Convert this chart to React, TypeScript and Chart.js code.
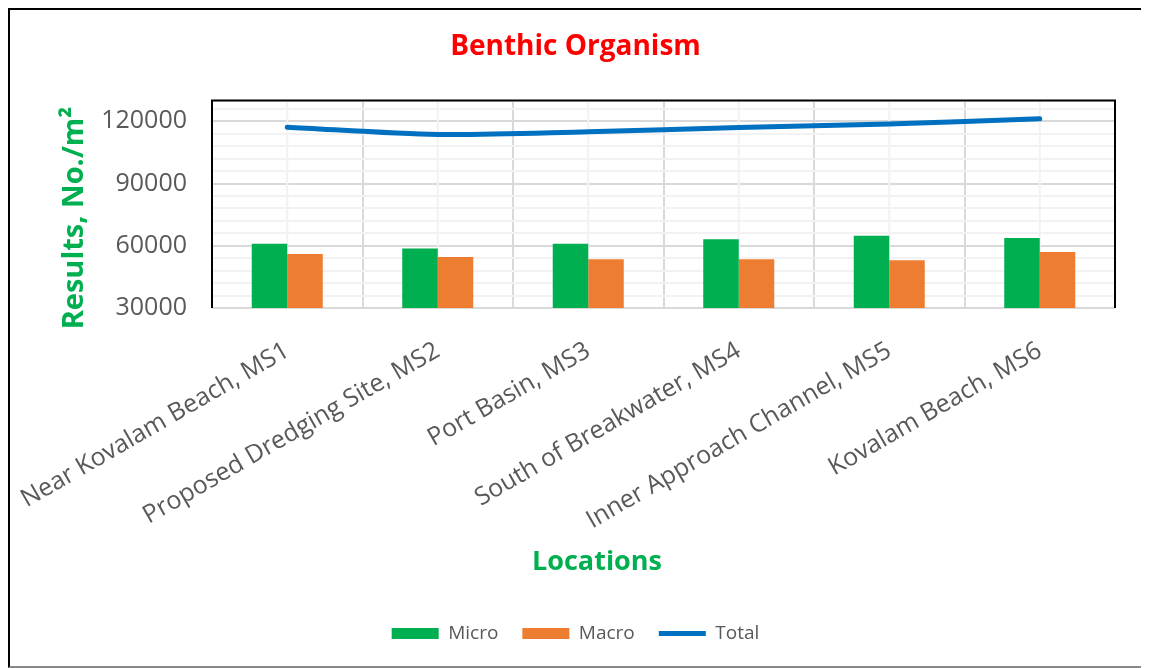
import { useEffect, useRef } from "react";
import { Chart, registerables } from "chart.js";

Chart.register(...registerables);

const categories = [
  "Near Kovalam Beach, MS1",
  "Proposed Dredging Site, MS2",
  "Port Basin, MS3",
  "South of Breakwater, MS4",
  "Inner Approach Channel, MS5",
  "Kovalam Beach, MS6",
];
const micro = [61000, 58700, 61000, 63200, 64800, 63800];
const macro = [56000, 54600, 53500, 53500, 53000, 57000];
const total = [117200, 113700, 115000, 117000, 118700, 121200];
const yMajorTicks = [30000, 60000, 90000, 120000];
const yGridTicks = [
  30000, 36000, 42000, 48000, 54000, 60000, 66000, 72000, 78000, 84000, 90000,
  96000, 102000, 108000, 114000, 120000, 126000, 130000,
];

const FONT = "'Open Sans', 'Noto Sans', sans-serif";

const framePlugin = {
  id: "frame",
  beforeDatasetsDraw(chart: any) {
    const { ctx, chartArea } = chart;
    const x = chart.scales.x;
    ctx.save();
    ctx.strokeStyle = "#F2F2F2";
    ctx.lineWidth = 2;
    for (let i = 0; i < categories.length; i++) {
      const px = x.getPixelForValue(i);
      ctx.beginPath();
      ctx.moveTo(px, chartArea.top);
      ctx.lineTo(px, chartArea.bottom);
      ctx.stroke();
    }
    ctx.restore();
  },
  afterDraw(chart: any) {
    const { ctx, chartArea } = chart;
    ctx.save();
    ctx.strokeStyle = "#000";
    ctx.lineWidth = 2;
    ctx.beginPath();
    ctx.moveTo(chartArea.left, chartArea.bottom);
    ctx.lineTo(chartArea.left, chartArea.top);
    ctx.lineTo(chartArea.right, chartArea.top);
    ctx.lineTo(chartArea.right, chartArea.bottom);
    ctx.stroke();

    ctx.fillStyle = "#00B050";
    ctx.font = `bold 27px ${FONT}`;
    ctx.textAlign = "center";
    ctx.textBaseline = "middle";
    ctx.fillText("Locations", 587, 552);

    ctx.translate(73, 208);
    ctx.rotate(-Math.PI / 2);
    ctx.font = `bold 29px ${FONT}`;
    ctx.textBaseline = "alphabetic";
    ctx.fillText("Results, No./m²", 0, 0);
    ctx.restore();
  },
};

export default function App() {
  const ref = useRef<HTMLCanvasElement | null>(null);
  useEffect(() => {
    if (!ref.current) return;
    const chart = new Chart(ref.current, {
      type: "bar",
      data: {
        labels: categories,
        datasets: [
          {
            type: "bar",
            label: "Micro",
            data: micro,
            backgroundColor: "#00B050",
            borderWidth: 0,
            pointStyle: "rect",
            order: 1,
          } as any,
          {
            type: "bar",
            label: "Macro",
            data: macro,
            backgroundColor: "#ED7D31",
            borderWidth: 0,
            pointStyle: "rect",
            order: 1,
          } as any,
          {
            type: "line",
            label: "Total",
            data: total,
            borderColor: "#0070C0",
            backgroundColor: "#0070C0",
            borderWidth: 5,
            pointRadius: 0,
            pointStyle: "line",
            tension: 0.3,
            borderCapStyle: "round",
            order: 0,
          } as any,
        ],
      },
      options: {
        animation: false,
        responsive: true,
        maintainAspectRatio: false,
        layout: { padding: { left: 26, right: 26, top: 0, bottom: 13 } },
        datasets: { bar: { categoryPercentage: 0.472, barPercentage: 1 } },
        plugins: {
          title: {
            display: true,
            text: "Benthic Organism",
            color: "#FF0000",
            font: { family: FONT, size: 28, weight: "bold" },
            padding: { top: 20, bottom: 37 },
          },
          legend: {
            position: "bottom",
            labels: {
              usePointStyle: true,
              pointStyleWidth: 47,
              boxHeight: 11,
              color: "#595959",
              font: { family: FONT, size: 19 },
              padding: 24,
              sort: (a: any, b: any) => a.datasetIndex - b.datasetIndex,
            },
          },
          tooltip: { enabled: false },
        },
        scales: {
          x: {
            grid: { offset: true, color: "#D9D9D9", lineWidth: 2, drawTicks: false },
            border: { display: false },
            ticks: {
              autoSkip: false,
              maxRotation: 30,
              minRotation: 30,
              color: "#595959",
              font: { family: FONT, size: 25 },
              padding: 28,
            },
            afterFit: (s: any) => {
              s.height = 292;
              s.paddingLeft = 0;
              s.paddingRight = 0;
            },
          },
          y: {
            min: 30000,
            max: 130000,
            grid: {
              color: (c: any) => (c.tick && c.tick.value % 30000 === 0 ? "#D9D9D9" : "#F2F2F2"),
              lineWidth: 2,
              drawTicks: false,
            },
            border: { display: false },
            afterBuildTicks: (s: any) => {
              s.ticks = yGridTicks.map((v) => ({ value: v }));
            },
            ticks: {
              autoSkip: false,
              color: "#595959",
              font: { family: FONT, size: 25 },
              padding: 25,
              callback: (v: any) => (yMajorTicks.includes(Math.round(Number(v))) ? String(v) : ""),
            },
            afterFit: (s: any) => {
              s.width = 176;
            },
          },
        },
      },
      plugins: [framePlugin],
    });
    return () => chart.destroy();
  }, []);
  return (
    <div
      style={{
        width: 1135,
        height: 660,
        border: "2px solid #000",
        borderBottomColor: "#888",
        boxSizing: "border-box",
        background: "#fff",
        position: "relative",
      }}
    >
      <canvas ref={ref} />
    </div>
  );
}
